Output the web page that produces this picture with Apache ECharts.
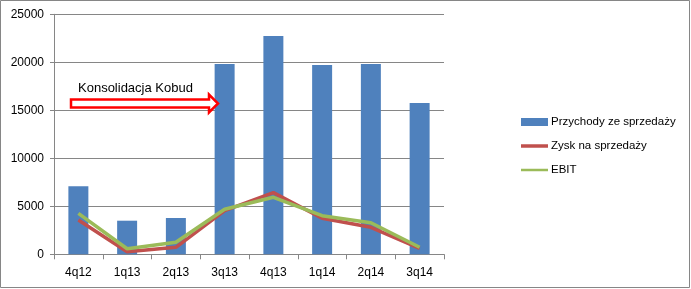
<!DOCTYPE html>
<html>
<head>
<meta charset="utf-8">
<script src="https://cdn.jsdelivr.net/npm/echarts@6/dist/echarts.min.js"></script>
<style>
html,body{margin:0;padding:0;background:#fff;}
#chart{width:691px;height:289px;}
</style>
</head>
<body>
<div id="chart"></div>
<script>
var categories = ['4q12','1q13','2q13','3q13','4q13','1q14','2q14','3q14'];
var przychody = [7100, 3500, 3780, 19820, 22750, 19720, 19820, 15750];
var zysk = [3570, 270, 730, 4540, 6420, 3750, 2810, 620];
var ebit = [4270, 580, 1250, 4690, 5940, 4020, 3290, 730];
var seriesNames = ['Przychody ze sprzedaży', 'Zysk na sprzedaży', 'EBIT'];
var annotationText = 'Konsolidacja Kobud';

var FONT = 'Liberation Sans';
var chart = echarts.init(document.getElementById('chart'), null, {renderer: 'canvas'});
chart.setOption({
  animation: false,
  backgroundColor: '#fff',
  textStyle: {fontFamily: FONT},
  grid: {left: 54, right: 247, top: 14.3, bottom: 34.7},
  legend: {
    orient: 'vertical',
    left: 516,
    top: 111,
    itemWidth: 27,
    itemHeight: 8,
    itemGap: 12,
    textStyle: {fontFamily: FONT, fontSize: 11.5, color: '#000', padding: [0,0,0,-2]},
    data: [
      {name: seriesNames[0], icon: 'rect'},
      {name: seriesNames[1], icon: 'path://M0,0L27,0L27,3.5L0,3.5Z', itemStyle: {color: '#C0504D'}},
      {name: seriesNames[2], icon: 'path://M0,0L27,0L27,2.5L0,2.5Z', itemStyle: {color: '#9BBB59'}}
    ]
  },
  xAxis: {
    type: 'category',
    data: categories,
    boundaryGap: true,
    axisLine: {lineStyle: {color: '#868686', width: 1}},
    axisTick: {show: true, length: 5, inside: false, lineStyle: {color: '#868686'}},
    axisLabel: {color: '#000', fontSize: 12, margin: 12, fontFamily: FONT},
    splitLine: {show: false}
  },
  yAxis: {
    type: 'value',
    min: 0, max: 25000, interval: 5000,
    axisLine: {show: true, lineStyle: {color: '#868686', width: 1}},
    axisTick: {show: true, length: 4, lineStyle: {color: '#868686'}},
    axisLabel: {color: '#000', fontSize: 12, margin: 10, fontFamily: FONT,
      formatter: function (v) { return String(v); }},
    splitLine: {show: true, lineStyle: {color: '#868686', width: 1}}
  },
  series: [
    {
      name: seriesNames[0], type: 'bar', data: przychody,
      barWidth: '41%',
      itemStyle: {color: '#4F81BD'}
    },
    {
      name: seriesNames[1], type: 'line', data: zysk,
      symbol: 'none', showSymbol: false,
      lineStyle: {color: '#C0504D', width: 3.5},
      itemStyle: {color: '#C0504D'}
    },
    {
      name: seriesNames[2], type: 'line', data: ebit,
      symbol: 'none', showSymbol: false,
      lineStyle: {color: '#9BBB59', width: 3.5},
      itemStyle: {color: '#9BBB59'}
    }
  ],
  graphic: [
    {
      type: 'rect', z: 100, silent: true,
      shape: {x: 0.5, y: 0.5, width: 689, height: 287},
      style: {fill: 'none', stroke: '#868686', lineWidth: 1}
    },
    {
      type: 'text', z: 100, left: 78, top: 82,
      style: {text: annotationText, fontFamily: FONT, fontSize: 13, fill: '#000'}
    },
    {
      type: 'polygon', z: 100,
      shape: {points: [[71,99.5],[209,99.5],[209,94.5],[218,103.5],[209,112.5],[209,107.5],[71,107.5]]},
      style: {fill: '#fff', stroke: '#FF0000', lineWidth: 2.5}
    }
  ]
});
</script>
</body>
</html>
